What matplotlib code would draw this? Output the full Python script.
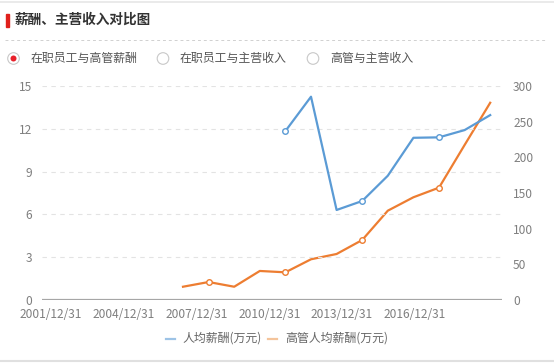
import matplotlib
matplotlib.use("Agg")
import matplotlib.pyplot as plt
from matplotlib.patches import Circle, Rectangle
from matplotlib.lines import Line2D

plt.rcParams['font.family'] = ['Noto Sans CJK SC', 'DejaVu Sans']

# ---- data ----
years = [2006, 2007, 2008, 2009, 2010, 2011, 2012, 2013, 2014, 2015, 2016, 2017, 2018]
exec_pay = [18.6, 25.2, 18.6, 40.7, 38.8, 57.1, 64.5, 84.1, 125.2, 144.0, 157.5, 217.3, 276.5]
staff_years = [2010, 2011, 2012, 2013, 2014, 2015, 2016, 2017, 2018]
staff_pay = [11.84, 14.25, 6.31, 6.94, 8.71, 11.37, 11.40, 11.91, 12.96]
xtick_labels = ['2001/12/31', '2004/12/31', '2007/12/31', '2010/12/31', '2013/12/31', '2016/12/31']
left_ticks = [0, 3, 6, 9, 12, 15]
right_ticks = [0, 50, 100, 150, 200, 250, 300]
legend_labels = ['人均薪酬(万元)', '高管人均薪酬(万元)']
title = '薪酬、主营收入对比图'
radio_labels = ['在职员工与高管薪酬', '在职员工与主营收入', '高管与主营收入']

W, H = 554, 363
fig = plt.figure(figsize=(W / 100, H / 100), dpi=100)

BLUE = '#5b9bd5'
ORANGE = '#ed7d31'
TXT = '#7f7f7f'

# plot area in pixels
L, R, T, B = 42, 502, 86, 300
ax = fig.add_axes([L / W, 1 - B / H, (R - L) / W, (B - T) / H])
ax2 = ax.twinx()

# x mapping: 25.6 px per year, 2006 at px 183
px_per_year = 25.6
x0 = 2006 - (183 - L) / px_per_year
x1 = 2006 + (R - 183) / px_per_year
ax.set_xlim(x0, x1)
tick_px = [51, 124, 197, 270, 342, 415]
ax.set_xticks([2006 + (p - 183) / px_per_year for p in tick_px])
ax.set_xticklabels(xtick_labels)

ax.set_ylim(0, 15)
ax2.set_ylim(0, 300)
ax.set_yticks(left_ticks)
ax2.set_yticks(right_ticks)

for a in (ax, ax2):
    for s in a.spines.values():
        s.set_visible(False)
    a.tick_params(length=0, labelsize=8.6, labelcolor=TXT)
ax.tick_params(axis='y', pad=7)
ax2.tick_params(axis='y', pad=8)
ax.tick_params(axis='x', pad=5.5)

# grid
ax.yaxis.grid(True, linestyle=(0, (4, 4)), color='#e3e3e3', linewidth=0.8)
ax.set_axisbelow(True)
ax.axhline(0, color='#a6a6a6', linewidth=1.6, zorder=1)

mk = dict(marker='o', markersize=4, markerfacecolor='white', markeredgewidth=1)
ax2.plot(years, exec_pay, color=ORANGE, linewidth=1.6, markevery=[1, 4, 7, 10],
         markeredgecolor=ORANGE, **mk, zorder=3)
ax.plot(staff_years, staff_pay, color=BLUE, linewidth=1.6, markevery=[0, 3, 6],
        markeredgecolor=BLUE, **mk, zorder=4)
ax.set_zorder(ax2.get_zorder() + 1)
ax.patch.set_visible(False)

# ---- decorations overlay (pixel coords) ----
ov = fig.add_axes([0, 0, 1, 1], zorder=-1)
ov.set_xlim(0, W)
ov.set_ylim(H, 0)
ov.axis('off')

ov.add_line(Line2D([0, W], [1.5, 1.5], color='#e6e6e6', linewidth=1.2))
ov.add_line(Line2D([0, W], [360.5, 360.5], color='#e0e0e0', linewidth=1.5))
ov.add_patch(Rectangle((6, 13.5), 3, 13, color='#e0201c'))
ov.text(15, 20, title, fontsize=9.8, fontweight='bold', color='#333333', va='center', ha='left')
ov.add_line(Line2D([5, 546], [40, 40], color='#d0d0d0', linewidth=0.7, linestyle=(0, (3, 3))))

radio_x = [13.5, 163, 313]
text_x = [31, 180, 330]
for i, (cx, tx, lab) in enumerate(zip(radio_x, text_x, radio_labels)):
    ov.add_patch(Circle((cx, 58.5), 5.8, facecolor='white', edgecolor='#c8c8c8', linewidth=0.8))
    if i == 0:
        ov.add_patch(Circle((cx, 58.5), 3.0, facecolor='#e8202a', edgecolor='none'))
    ov.text(tx, 58.5, lab, fontsize=8.6, color='#555555', va='center', ha='left')

# legend
leg_x = [166, 268]
leg_tx = [182, 285]
leg_colors = ['#9dc3e6', '#f4c49b']
for lx, tx, c, lab in zip(leg_x, leg_tx, leg_colors, legend_labels):
    ov.add_line(Line2D([lx, lx + 9], [338.5, 338.5], color=c, linewidth=1.6))
    ov.text(tx, 338.5, lab, fontsize=8.6, color='#666666', va='center', ha='left')

fig.savefig('out.png', dpi=100)
